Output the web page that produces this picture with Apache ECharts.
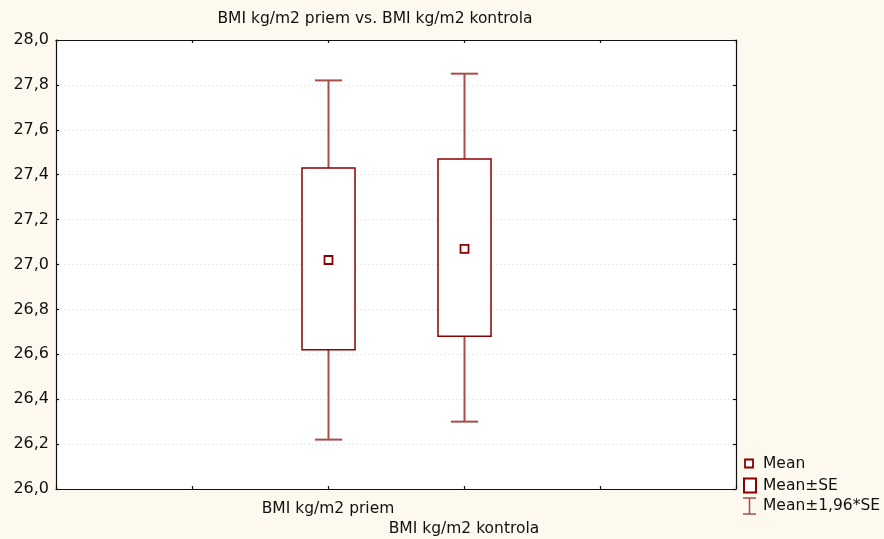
<!DOCTYPE html>
<html>
<head>
<meta charset="utf-8">
<script src="https://cdn.jsdelivr.net/npm/echarts@6/dist/echarts.min.js"></script>
<style>
html,body{margin:0;padding:0;background:#fdf9ee;}
#chart{width:884px;height:539px;}
</style>
</head>
<body>
<div id="chart"></div>
<script>
// ---- data ----
const chartTitle = 'BMI kg/m2 priem vs. BMI kg/m2 kontrola';
const categories = ['BMI kg/m2 priem', 'BMI kg/m2 kontrola'];
const means      = [27.02, 27.07];
const seLow      = [26.62, 26.68];
const seHigh     = [27.43, 27.47];
const ciLow      = [26.22, 26.30];
const ciHigh     = [27.82, 27.85];
const yTicks     = ['26,0','26,2','26,4','26,6','26,8','27,0','27,2','27,4','27,6','27,8','28,0'];
const legendLabels = ['Mean', 'Mean±SE', 'Mean±1,96*SE'];

// ---- chart ----
const FONT = 'DejaVu Sans';
const RED = '#8b0000';
const WRED = '#a84c4c';
const X_OFFSET = 2; // first category sits on the 3rd tick

const seriesData = categories.map((c, i) => [i + X_OFFSET, means[i], seLow[i], seHigh[i], ciLow[i], ciHigh[i]]);

const chart = echarts.init(document.getElementById('chart'), null, {renderer: 'canvas'});

function renderItem(params, api) {
  const x = api.value(0);
  const pMean = api.coord([x, api.value(1)]);
  const pSeL = api.coord([x, api.value(2)]);
  const pSeH = api.coord([x, api.value(3)]);
  const pCiL = api.coord([x, api.value(4)]);
  const pCiH = api.coord([x, api.value(5)]);
  const boxW = api.size([0.39, 0])[0];
  const capW = api.size([0.2, 0])[0];
  const cx = Math.round(pMean[0]) + 0.5;
  return {
    type: 'group',
    children: [
      {type: 'line', shape: {x1: cx, y1: pCiH[1], x2: cx, y2: pSeH[1]}, style: {stroke: WRED, lineWidth: 2}},
      {type: 'line', shape: {x1: cx, y1: pSeL[1], x2: cx, y2: pCiL[1]}, style: {stroke: WRED, lineWidth: 2}},
      {type: 'line', shape: {x1: cx - capW/2, y1: pCiH[1], x2: cx + capW/2, y2: pCiH[1]}, style: {stroke: WRED, lineWidth: 2}},
      {type: 'line', shape: {x1: cx - capW/2, y1: pCiL[1], x2: cx + capW/2, y2: pCiL[1]}, style: {stroke: WRED, lineWidth: 2}},
      {type: 'rect', shape: {x: cx - boxW/2, y: pSeH[1], width: boxW, height: pSeL[1] - pSeH[1]},
        style: {fill: '#fff', stroke: RED, lineWidth: 1.5}},
      {type: 'rect', shape: {x: cx - 4, y: pMean[1] - 4, width: 8, height: 8},
        style: {fill: '#fff', stroke: RED, lineWidth: 1.8}}
    ]
  };
}

const axisLineStyle = {color: '#111', width: 1.2};

const option = {
  backgroundColor: '#fdf9ee',
  animation: false,
  grid: {left: 56, right: 148, top: 40, bottom: 50, show: true, backgroundColor: '#ffffff', borderWidth: 0},
  xAxis: [
    {
      type: 'value', min: 0, max: 5, interval: 1, position: 'bottom',
      axisLine: {show: true, onZero: false, lineStyle: axisLineStyle},
      axisTick: {show: true, inside: true, length: 3, lineStyle: axisLineStyle},
      splitLine: {show: false},
      axisLabel: {
        show: true, margin: 10, fontFamily: FONT, fontSize: 15.5, color: '#111', lineHeight: 20,
        formatter: function (v) {
          const idx = Math.round(v) - X_OFFSET;
          if (idx < 0 || idx >= categories.length) return '';
          return (idx % 2 === 1 ? '\n' : '') + categories[idx];
        }
      }
    },
    {
      type: 'value', min: 0, max: 5, interval: 1, position: 'top',
      axisLine: {show: true, onZero: false, lineStyle: axisLineStyle},
      axisTick: {show: true, inside: true, length: 3, lineStyle: axisLineStyle},
      splitLine: {show: false}, axisLabel: {show: false}
    }
  ],
  yAxis: [
    {
      type: 'value', min: 26, max: 28, interval: 0.2, position: 'left',
      axisLine: {show: true, onZero: false, lineStyle: axisLineStyle},
      axisTick: {show: true, inside: true, length: 3, lineStyle: axisLineStyle},
      splitLine: {show: true, lineStyle: {color: '#dcdcdc', type: [1, 3], width: 1}},
      axisLabel: {
        margin: 7, fontFamily: FONT, fontSize: 16, color: '#111',
        formatter: function (v) { return yTicks[Math.round((v - 26) / 0.2)]; }
      }
    },
    {
      type: 'value', min: 26, max: 28, interval: 0.2, position: 'right',
      axisLine: {show: true, onZero: false, lineStyle: axisLineStyle},
      axisTick: {show: true, inside: true, length: 3, lineStyle: axisLineStyle},
      splitLine: {show: false}, axisLabel: {show: false}
    }
  ],
  series: [{
    type: 'custom',
    xAxisIndex: 0, yAxisIndex: 0,
    renderItem: renderItem,
    data: seriesData,
    clip: false
  }],
  graphic: [
    {type: 'text', x: 375, y: 19,
      style: {text: chartTitle, font: '15.5px "' + FONT + '"', fill: '#111', align: 'center', verticalAlign: 'middle'}},
    // legend: Mean
    {type: 'rect', shape: {x: 745, y: 459.5, width: 8, height: 8}, style: {fill: '#fff', stroke: RED, lineWidth: 1.8}},
    {type: 'text', x: 763, y: 464, style: {text: legendLabels[0], font: '15.5px "' + FONT + '"', fill: '#111', verticalAlign: 'middle'}},
    // legend: Mean±SE
    {type: 'rect', shape: {x: 744, y: 478.5, width: 12, height: 14}, style: {fill: '#fff', stroke: RED, lineWidth: 2}},
    {type: 'text', x: 763, y: 485.5, style: {text: legendLabels[1], font: '15.5px "' + FONT + '"', fill: '#111', verticalAlign: 'middle'}},
    // legend: Mean±1,96*SE
    {type: 'line', shape: {x1: 743, y1: 498, x2: 756, y2: 498}, style: {stroke: WRED, lineWidth: 1.5}},
    {type: 'line', shape: {x1: 749.5, y1: 498, x2: 749.5, y2: 514}, style: {stroke: WRED, lineWidth: 1.5}},
    {type: 'line', shape: {x1: 743, y1: 514, x2: 756, y2: 514}, style: {stroke: WRED, lineWidth: 1.5}},
    {type: 'text', x: 763, y: 506, style: {text: legendLabels[2], font: '15.5px "' + FONT + '"', fill: '#111', verticalAlign: 'middle'}}
  ]
};

chart.setOption(option);
</script>
</body>
</html>
